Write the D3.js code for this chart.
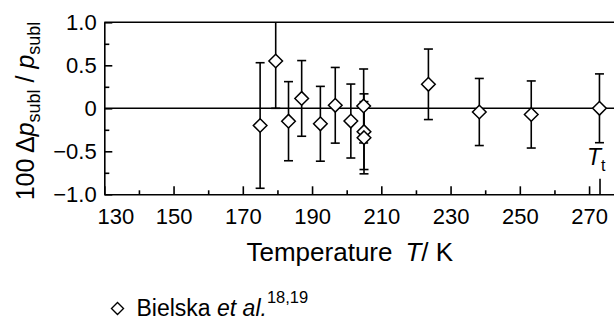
<!DOCTYPE html>
<html>
<head>
<meta charset="utf-8">
<script src="https://cdn.jsdelivr.net/npm/d3@7"></script>
<style>
  html, body { margin: 0; padding: 0; background: #fff; }
  svg { display: block; font-family: "Liberation Sans", Arial, sans-serif; }
</style>
</head>
<body>
<svg id="chart" width="614" height="321"></svg>
<script>
// temperature T / K
const temps = [175, 179.5, 183.2, 187, 192.4, 196.7, 201.2, 204.9, 205, 205, 223.6, 238.3, 253.3, 273]
// 100 dp/p
const devs = [-0.2, 0.55, -0.15, 0.115, -0.18, 0.035, -0.148, 0.027, -0.272, -0.342, 0.279, -0.043, -0.072, 0.0]
// error bar half-widths
const errs = [0.73, 0.55, 0.46, 0.44, 0.435, 0.44, 0.43, 0.43, 0.44, 0.42, 0.41, 0.39, 0.39, 0.4]

const xTicks = d3.range(130, 281, 10)
const xLabels = [130, 150, 170, 190, 210, 230, 250, 270]
const yTicks = d3.range(-1, 1.001, 0.25)
const yLabels = { "1": "1.0", "0.5": "0.5", "0": "0", "-0.5": "\u22120.5", "-1": "\u22121.0" }
const tTriple = 273.16

const data = temps.map((t, i) => ({ t: t, v: devs[i], e: errs[i] }))

const svg = d3.select("#chart")
const fs = 22

const x = d3.scaleLinear().domain([130, 280]).range([104.3, 623.7])
const y = d3.scaleLinear().domain([-1, 1]).range([194.3, 22.3])

// frame top + zero line
svg.append("line")
  .attr("x1", x(130)).attr("x2", 614)
  .attr("y1", y(1)).attr("y2", y(1))
  .attr("stroke", "#000").attr("stroke-width", 1.6)
svg.append("line")
  .attr("x1", x(130)).attr("x2", 614)
  .attr("y1", y(0)).attr("y2", y(0))
  .attr("stroke", "#000").attr("stroke-width", 1.6)

// x axis
const xAxis = d3.axisBottom(x)
  .tickValues(xTicks)
  .tickSizeInner(-8)
  .tickSizeOuter(0)
  .tickFormat((d) => (xLabels.includes(d) ? d : ""))

const gx = svg.append("g")
  .attr("transform", `translate(0,${y(-1)})`)
  .call(xAxis)
gx.select(".domain").attr("stroke-width", 1.6)
gx.selectAll(".tick line")
  .attr("stroke-width", 1.6)
  .attr("y2", (d) => (xLabels.includes(d) ? -8 : -4))
gx.selectAll(".tick text")
  .attr("font-size", fs)
  .attr("font-family", "Liberation Sans, Arial, sans-serif")
  .attr("fill", "#000")
  .attr("y", 30).attr("dy", 0)
  .attr("dx", (d) => (d === 130 ? 11 : 0))

// triple point tick
gx.append("line")
  .attr("x1", x(tTriple)).attr("x2", x(tTriple))
  .attr("y1", 0).attr("y2", -15.5)
  .attr("stroke", "#000").attr("stroke-width", 1.6)

// y axis
const yAxis = d3.axisLeft(y)
  .tickValues(yTicks)
  .tickSizeInner(-8)
  .tickSizeOuter(0)
  .tickPadding(7.6)
  .tickFormat((d) => yLabels[String(d)] || "")

const gy = svg.append("g")
  .attr("transform", `translate(${x(130)},0)`)
  .call(yAxis)
gy.select(".domain").attr("stroke-width", 1.6)
gy.selectAll(".tick line")
  .attr("stroke-width", 1.6)
  .attr("x2", (d) => (yLabels[String(d)] ? 8 : 5))
gy.selectAll(".tick text")
  .attr("font-size", fs)
  .attr("font-family", "Liberation Sans, Arial, sans-serif")
  .attr("fill", "#000")

// error bars
const clip = (v) => Math.max(-1, Math.min(1, v))
const bars = svg.append("g").selectAll(".bar").data(data).join("g").attr("class", "bar")
bars.append("line")
  .attr("x1", (d) => x(d.t)).attr("x2", (d) => x(d.t))
  .attr("y1", (d) => y(clip(d.v + d.e)))
  .attr("y2", (d) => y(clip(d.v - d.e)))
  .attr("stroke", "#000").attr("stroke-width", 1.6)
bars.filter((d) => d.v + d.e <= 1).append("line")
  .attr("x1", (d) => x(d.t) - 4.5).attr("x2", (d) => x(d.t) + 4.5)
  .attr("y1", (d) => y(d.v + d.e)).attr("y2", (d) => y(d.v + d.e))
  .attr("stroke", "#000").attr("stroke-width", 1.6)
bars.filter((d) => d.v - d.e >= -1).append("line")
  .attr("x1", (d) => x(d.t) - 4.5).attr("x2", (d) => x(d.t) + 4.5)
  .attr("y1", (d) => y(d.v - d.e)).attr("y2", (d) => y(d.v - d.e))
  .attr("stroke", "#000").attr("stroke-width", 1.6)

// diamond markers
const diamond = (r) => `M0,${-r}L${r},0L0,${r}L${-r},0Z`
svg.append("g").selectAll(".pt").data(data).join("path")
  .attr("class", "pt")
  .attr("d", diamond(6.8))
  .attr("transform", (d) => `translate(${x(d.t)},${y(d.v)})`)
  .attr("fill", "#fff").attr("stroke", "#000").attr("stroke-width", 1.5)

// T_t label
const tt = svg.append("text")
  .attr("x", x(tTriple) - 13).attr("y", 165)
  .attr("font-size", 23)
tt.append("tspan").attr("font-style", "italic").text("T")
tt.append("tspan").attr("font-size", 16).attr("dy", 6).text("t")

// x title
const xt = svg.append("text")
  .attr("x", 246.5).attr("y", 261)
  .attr("font-size", 26)
xt.append("tspan").text("Temperature\u2002")
xt.append("tspan").attr("font-style", "italic").text("T")
xt.append("tspan").text("/ K")

// y title
const yt = svg.append("text")
  .attr("transform", "translate(33.5,111) rotate(-90)")
  .attr("text-anchor", "middle")
  .attr("font-size", 25)
yt.append("tspan").text("100 \u0394")
yt.append("tspan").attr("font-style", "italic").text("p")
yt.append("tspan").attr("font-size", 18).attr("dy", 6).text("subl")
yt.append("tspan").attr("dy", -6).text(" / ")
yt.append("tspan").attr("font-style", "italic").text("p")
yt.append("tspan").attr("font-size", 18).attr("dy", 6).text("subl")

// legend
const lg = svg.append("g")
lg.append("path")
  .attr("d", diamond(6))
  .attr("transform", "translate(117.5,308.5)")
  .attr("fill", "#fff").attr("stroke", "#000").attr("stroke-width", 1.4)
const lt = lg.append("text")
  .attr("x", 136.5).attr("y", 315.5)
  .attr("font-size", 23)
lt.append("tspan").text("Bielska ")
lt.append("tspan").attr("font-style", "italic").text("et al.")
lt.append("tspan").attr("font-size", 16.5).attr("dy", -13).text("18,19")
</script>
</body>
</html>
